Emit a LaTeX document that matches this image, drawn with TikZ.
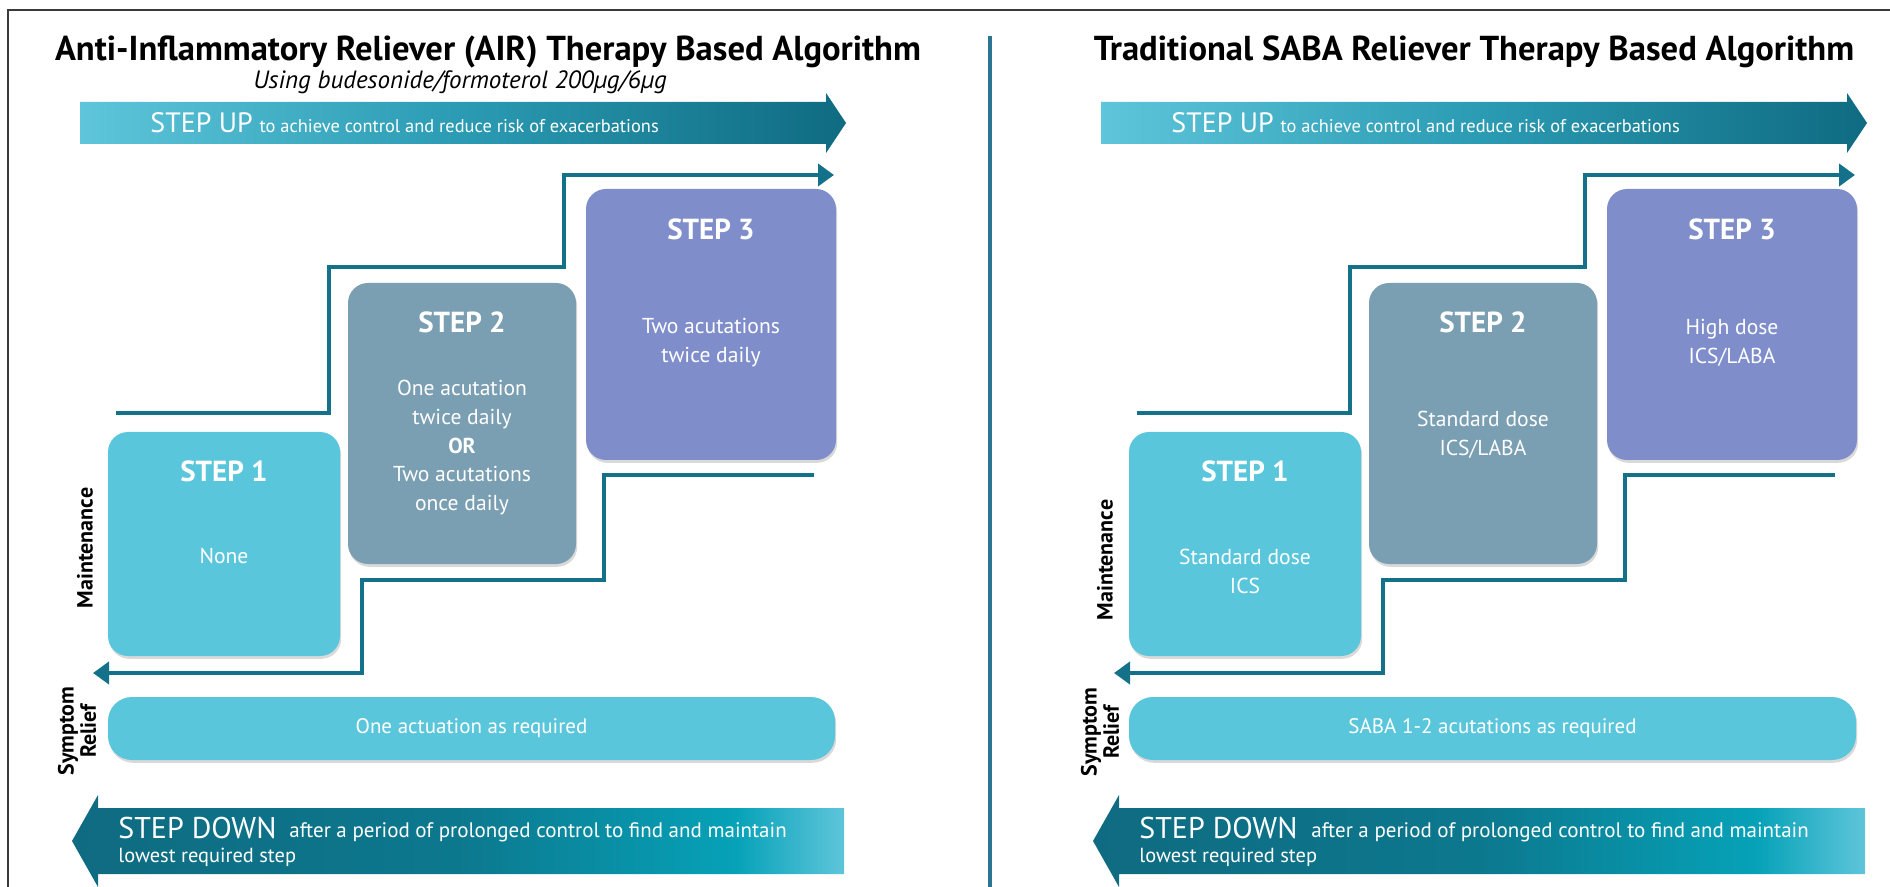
\documentclass[tikz,border=0pt]{standalone}
\usepackage{fontspec}
\setmainfont{PT Sans}
\usetikzlibrary{arrows.meta, shadows, positioning}

\definecolor{stepcyan}{HTML}{5AC6DC}
\definecolor{stepslate}{HTML}{7A9EB2}
\definecolor{steplilac}{HTML}{7F8ECB}
\definecolor{stairteal}{HTML}{14718A}
\definecolor{dividerteal}{HTML}{2B7590}
\definecolor{framegray}{HTML}{3A3A3A}
\definecolor{arrowlight}{HTML}{5EC5DA}
\definecolor{arrowmid}{HTML}{2A9BB3}
\definecolor{arrowdark}{HTML}{0F6B81}
\definecolor{arrowdeep}{HTML}{0C788E}
\definecolor{arrowbright}{HTML}{06A2B8}

\pgfdeclarehorizontalshading{stepupshade}{100bp}{color(0bp)=(arrowlight); color(25bp)=(arrowlight); color(50bp)=(arrowmid); color(75bp)=(arrowdark); color(100bp)=(arrowdark)}
\pgfdeclarehorizontalshading{stepdownshade}{100bp}{color(0bp)=(arrowdark); color(25bp)=(arrowdark); color(50bp)=(arrowdeep); color(68bp)=(arrowbright); color(75bp)=(arrowlight); color(100bp)=(arrowlight)}

\begin{document}
\begin{tikzpicture}[
    x=0.5pt, y=-0.5pt,
    stepbox/.style={rectangle, rounded corners=10pt, fill=#1, draw=none,
        drop shadow={shadow xshift=0.6pt, shadow yshift=-1.4pt, opacity=0.3}},
    barbox/.style={rectangle, rounded corners=12pt, fill=stepcyan, text=white,
        minimum width=363.5pt, minimum height=31.5pt,
        font=\fontsize{10.5}{12}\selectfont,
        drop shadow={shadow xshift=0.6pt, shadow yshift=-1.4pt, opacity=0.3}},
    stephead/.style={text=white, font=\bfseries\fontsize{14.5}{16}\selectfont},
    stepbody/.style={text=white, align=center, font=\fontsize{10.8}{14.3}\selectfont},
    titletext/.style={font=\bfseries\fontsize{17.3}{20}\selectfont},
    sidelabel/.style={rotate=90, align=center, inner sep=0pt, font=\bfseries\fontsize{11}{9}\selectfont},
    bigarrowtext/.style={anchor=base west, text=white, inner sep=0pt},
    stairline/.style={stairteal, line width=2.2pt, -{Triangle[length=8pt, width=11pt]}}
]
    \useasboundingbox (0,0) rectangle (1890,887);

    % Frame and divider
    \draw[framegray, line width=1.4pt] (8,887) -- (8,10) -- (1890,10);
    \draw[dividerteal, line width=1.6pt] (990,36) -- (990,887);

    % ---------------- AIR algorithm ----------------
    \node[titletext] (airtitle) at (488,52) {Anti-Inflammatory Reliever (AIR) Therapy Based Algorithm};
    \node[font=\itshape\fontsize{12.5}{14}\selectfont] (airsub) at (460,82) {Using budesonide/formoterol 200µg/6µg};

    % Step up arrow
    \shade[shading=stepupshade] (80,102) -- (826,102) -- (826,93) -- (846,123)
        -- (826,153) -- (826,144) -- (80,144) -- cycle;
    \node[bigarrowtext] (airupbig) at (150,133) {\fontsize{14}{14}\selectfont STEP UP};
    \node[bigarrowtext, right=3pt of airupbig.base east, anchor=base west]
        (airuptxt) {\fontsize{9.2}{11}\selectfont to achieve control and reduce risk of exacerbations};

    % Steps
    \node[stepbox=stepcyan, minimum width=116pt, minimum height=112pt] (air1) at (224,544) {};
    \node[stepbox=stepslate, minimum width=114pt, minimum height=140.5pt] (air2) at (462,423.5) {};
    \node[stepbox=steplilac, minimum width=125pt, minimum height=135.5pt] (air3) at (711,324.5) {};

    \node[stephead] (air1head) at ([yshift=-20pt]air1.north) {STEP 1};
    \node[stepbody] (air1body) at ([yshift=-62pt]air1.north) {None};
    \node[stephead] (air2head) at ([yshift=-20pt]air2.north) {STEP 2};
    \node[stepbody] (air2body) at ([yshift=-82.5pt]air2.north)
        {One acutation\\twice daily\\\textbf{OR}\\Two acutations\\once daily};
    \node[stephead] (air3head) at ([yshift=-20.5pt]air3.north) {STEP 3};
    \node[stepbody] (air3body) at ([yshift=-77pt]air3.north) {Two acutations\\twice daily};

    % Reliever bar
    \node[barbox] (airbar) at (471.5,728.5) {One actuation as required};

    % Side labels
    \node[sidelabel] (airmaint) at (85,548) {Maintenance};
    \node[sidelabel] (airrelief) at (77,731) {Symptom\\Relief};

    % Stair arrows
    \coordinate (airupstart) at (116,413);
    \coordinate (airupend) at (834,175);
    \coordinate (airdownstart) at (814,475);
    \coordinate (airdownend) at (93,673);
    \draw[stairline] (airupstart) -| (329,267) -| (564,175) -- (airupend);
    \draw[stairline] (airdownstart) -| (604,580) -| (362,673) -- (airdownend);

    % Step down arrow
    \shade[shading=stepdownshade] (844,808) -- (98,808) -- (98,795) -- (72,841)
        -- (98,887) -- (98,874) -- (844,874) -- cycle;
    \node[bigarrowtext] (airdownbig) at (118,838) {\fontsize{15}{15}\selectfont STEP DOWN};
    \node[bigarrowtext] (airdowntxt) at (289,837)
        {\fontsize{10.5}{12}\selectfont after a period of prolonged control to find and maintain};
    \node[bigarrowtext] (airdownlow) at (118,862) {\fontsize{10.2}{12}\selectfont lowest required step};

    % ---------------- SABA algorithm ----------------
    \node[titletext] (sabatitle) at (1474,52) {Traditional SABA Reliever Therapy Based Algorithm};

    % Step up arrow
    \shade[shading=stepupshade] (1101,102) -- (1847,102) -- (1847,93) -- (1867,123)
        -- (1847,153) -- (1847,144) -- (1101,144) -- cycle;
    \node[bigarrowtext] (sabaupbig) at (1171,133) {\fontsize{14}{14}\selectfont STEP UP};
    \node[bigarrowtext, right=3pt of sabaupbig.base east, anchor=base west]
        (sabauptxt) {\fontsize{9.2}{11}\selectfont to achieve control and reduce risk of exacerbations};

    % Steps
    \node[stepbox=stepcyan, minimum width=116pt, minimum height=112pt] (saba1) at (1245,544) {};
    \node[stepbox=stepslate, minimum width=114pt, minimum height=140.5pt] (saba2) at (1483,423.5) {};
    \node[stepbox=steplilac, minimum width=125pt, minimum height=135.5pt] (saba3) at (1732,324.5) {};

    \node[stephead] (saba1head) at ([yshift=-20pt]saba1.north) {STEP 1};
    \node[stepbody] (saba1body) at ([yshift=-70pt]saba1.north) {Standard dose\\ICS};
    \node[stephead] (saba2head) at ([yshift=-20pt]saba2.north) {STEP 2};
    \node[stepbody] (saba2body) at ([yshift=-76pt]saba2.north) {Standard dose\\ICS/LABA};
    \node[stephead] (saba3head) at ([yshift=-20.5pt]saba3.north) {STEP 3};
    \node[stepbody] (saba3body) at ([yshift=-77pt]saba3.north) {High dose\\ICS/LABA};

    % Reliever bar
    \node[barbox] (sababar) at (1492.5,728.5) {SABA 1-2 acutations as required};

    % Side labels
    \node[sidelabel] (sabamaint) at (1105,560) {Maintenance};
    \node[sidelabel] (sabarelief) at (1100,732) {Symptom\\Relief};

    % Stair arrows
    \coordinate (sabaupstart) at (1137,413);
    \coordinate (sabaupend) at (1855,175);
    \coordinate (sabadownstart) at (1835,475);
    \coordinate (sabadownend) at (1114,673);
    \draw[stairline] (sabaupstart) -| (1350,267) -| (1585,175) -- (sabaupend);
    \draw[stairline] (sabadownstart) -| (1625,580) -| (1383,673) -- (sabadownend);

    % Step down arrow
    \shade[shading=stepdownshade] (1865,808) -- (1119,808) -- (1119,795) -- (1093,841)
        -- (1119,887) -- (1119,874) -- (1865,874) -- cycle;
    \node[bigarrowtext] (sabadownbig) at (1139,838) {\fontsize{15}{15}\selectfont STEP DOWN};
    \node[bigarrowtext] (sabadowntxt) at (1311,837)
        {\fontsize{10.5}{12}\selectfont after a period of prolonged control to find and maintain};
    \node[bigarrowtext] (sabadownlow) at (1139,862) {\fontsize{10.2}{12}\selectfont lowest required step};
\end{tikzpicture}
\end{document}
